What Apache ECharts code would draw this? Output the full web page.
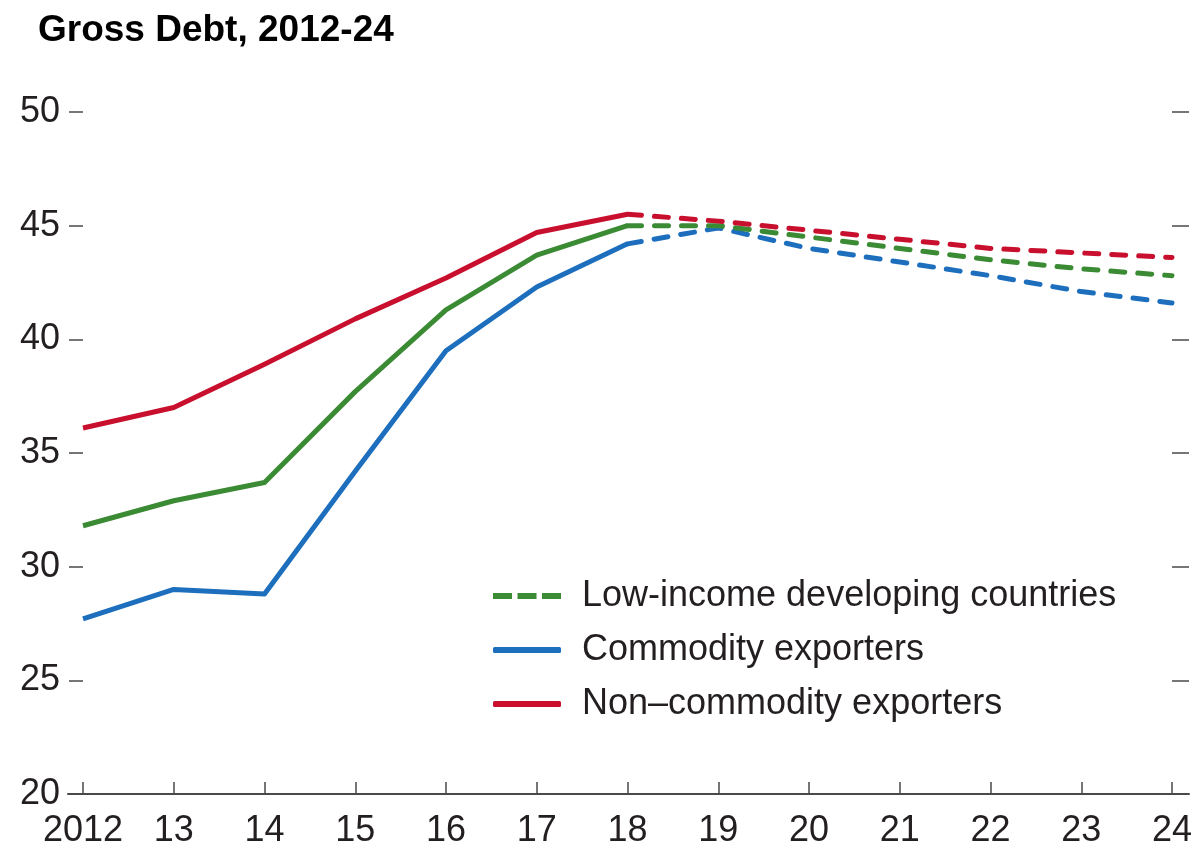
<!DOCTYPE html>
<html>
<head>
<meta charset="utf-8">
<title>Gross Debt, 2012-24</title>
<script src="https://cdn.jsdelivr.net/npm/echarts@6/dist/echarts.min.js"></script>
<style>
  html, body { margin: 0; padding: 0; background: #fff; }
  #chart { width: 1199px; height: 853px; }
</style>
</head>
<body>
<div id="chart"></div>
<script>
// categories
const years = ["2012", "13", "14", "15", "16", "17", "18", "19", "20", "21", "22", "23", "24"];
const yTicks = [20, 25, 30, 35, 40, 45, 50];

// actual values 2012-18, projections 2018-24
const lidcActual = [31.8, 32.9, 33.7, 37.7, 41.3, 43.7, 45.0];
const lidcProj = [45.0, 45.0, 44.5, 44.0, 43.5, 43.1, 42.8];
const commodityActual = [27.7, 29.0, 28.8, 34.2, 39.5, 42.3, 44.2];
const commodityProj = [44.2, 44.9, 44.0, 43.4, 42.8, 42.1, 41.6];
const nonCommodityActual = [36.1, 37.0, 38.9, 40.9, 42.7, 44.7, 45.5];
const nonCommodityProj = [45.5, 45.2, 44.8, 44.4, 44.0, 43.8, 43.6];

const names = ["Low-income developing countries", "Commodity exporters", "Non–commodity exporters"];
const colors = ["#3b8a34", "#1d6fbe", "#c8102e"];

const FONT = "'Liberation Sans', Arial, sans-serif";
const AXIS = "#4a4a4a";

// pad actual / projection arrays onto the full year axis
const padActual = (arr) => arr.concat(new Array(years.length - arr.length).fill(null));
const padProj = (arr) => new Array(years.length - arr.length).fill(null).concat(arr);

const lineSeries = (name, color, data, dashed, z) => ({
  name: name,
  type: "line",
  data: data,
  symbol: "none",
  z: z,
  connectNulls: false,
  itemStyle: { color: color },
  lineStyle: {
    color: color,
    width: 5,
    type: dashed ? [14, 13] : "solid",
    cap: dashed ? "round" : "butt",
    join: "round",
  },
});

const chart = echarts.init(document.getElementById("chart"));

const dashIcon = "path://M0,0H19V6H0Z M24.5,0H43.5V6H24.5Z M49,0H68V6H49Z";

const option = {
  animation: false,
  title: {
    text: "Gross Debt, 2012-24",
    left: 33,
    top: 7,
    textStyle: {
      fontFamily: FONT,
      fontWeight: "bold",
      fontSize: 37,
      color: "#000",
    },
  },
  legend: {
    orient: "vertical",
    left: 493,
    top: 578,
    padding: 0,
    itemWidth: 68,
    itemHeight: 6,
    itemGap: 18,
    selectedMode: false,
    textStyle: {
      fontFamily: FONT,
      fontSize: 36,
      lineHeight: 36,
      color: "#231f20",
      padding: [0, 0, 0, 16],
    },
    data: [
      { name: names[0], icon: dashIcon },
      { name: names[1], icon: "roundRect" },
      { name: names[2], icon: "roundRect" },
    ],
  },
  grid: [
    { left: 83, right: 27, top: 112, bottom: 59 },
    // only carries the longer bottom axis line
    { left: 68, right: 10, top: 112, bottom: 59 },
  ],
  xAxis: [
    {
      type: "category",
      gridIndex: 0,
      data: years,
      boundaryGap: false,
      axisLine: { show: false },
      axisTick: {
        show: true,
        inside: true,
        length: 12,
        lineStyle: { color: AXIS, width: 1.5 },
      },
      axisLabel: {
        fontFamily: FONT,
        fontSize: 36,
        color: "#231f20",
        margin: 19,
        interval: 0,
      },
      splitLine: { show: false },
    },
    {
      type: "value",
      gridIndex: 1,
      min: 0,
      max: 1,
      axisLine: { show: true, lineStyle: { color: AXIS, width: 2 } },
      axisTick: { show: false },
      axisLabel: { show: false },
      splitLine: { show: false },
    },
  ],
  yAxis: [
    {
      type: "value",
      gridIndex: 0,
      position: "left",
      min: yTicks[0],
      max: yTicks[yTicks.length - 1],
      interval: 5,
      axisLine: { show: false },
      axisTick: {
        show: true,
        length: 14,
        lineStyle: { color: AXIS, width: 1.5 },
      },
      axisLabel: {
        fontFamily: FONT,
        fontSize: 36,
        color: "#231f20",
        margin: 23,
      },
      splitLine: { show: false },
    },
    {
      type: "value",
      gridIndex: 0,
      position: "right",
      min: yTicks[0],
      max: yTicks[yTicks.length - 1],
      interval: 5,
      axisLine: { show: false },
      axisTick: {
        show: true,
        length: 17,
        lineStyle: { color: AXIS, width: 1.5 },
      },
      axisLabel: { show: false },
      splitLine: { show: false },
    },
    {
      type: "value",
      gridIndex: 1,
      show: false,
      min: 0,
      max: 1,
    },
  ],
  series: [
    lineSeries(names[0], colors[0], padActual(lidcActual), false, 3),
    lineSeries(names[1], colors[1], padActual(commodityActual), false, 2),
    lineSeries(names[2], colors[2], padActual(nonCommodityActual), false, 4),
    lineSeries(names[1], colors[1], padProj(commodityProj), true, 2),
    lineSeries(names[0], colors[0], padProj(lidcProj), true, 3),
    lineSeries(names[2], colors[2], padProj(nonCommodityProj), true, 4),
  ],
};

chart.setOption(option);
</script>
</body>
</html>
